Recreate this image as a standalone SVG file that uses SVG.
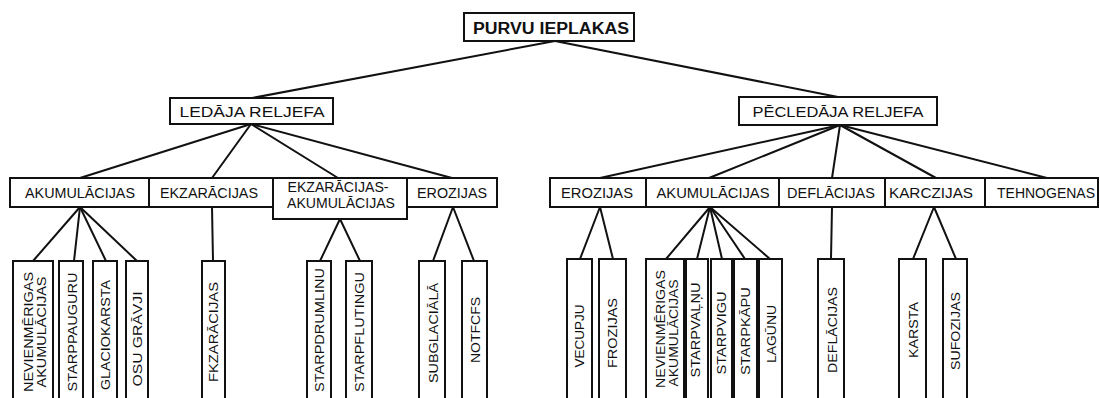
<svg xmlns="http://www.w3.org/2000/svg" width="1100" height="398" viewBox="0 0 1100 398">
<style>
.b{fill:#fff;stroke:#111;stroke-width:2}
.c line{stroke:#111;stroke-width:2;stroke-linecap:round}
text{font-family:"Liberation Sans",Arial,sans-serif;fill:#111;font-size:14px}
.t{text-anchor:middle}
.r{font-size:13.5px}
.root{font-weight:bold;font-size:16px}
</style>
<rect width="1100" height="398" fill="#fff"/>
<g class="c" id="connectors">
<line x1="555" y1="41" x2="252" y2="98"/>
<line x1="555" y1="41" x2="838" y2="97"/>
<line x1="251" y1="124" x2="80" y2="178"/>
<line x1="251" y1="124" x2="212" y2="178"/>
<line x1="251" y1="124" x2="338" y2="178"/>
<line x1="251" y1="124" x2="452" y2="178"/>
<line x1="840" y1="125" x2="600" y2="178"/>
<line x1="840" y1="125" x2="709" y2="178"/>
<line x1="840" y1="125" x2="832" y2="178"/>
<line x1="840" y1="125" x2="936" y2="178"/>
<line x1="840" y1="125" x2="1047" y2="178"/>
<line x1="80" y1="207" x2="33" y2="261"/>
<line x1="80" y1="207" x2="74" y2="261"/>
<line x1="80" y1="207" x2="106" y2="261"/>
<line x1="80" y1="207" x2="137" y2="261"/>
<line x1="212" y1="207" x2="213" y2="261"/>
<line x1="340" y1="219" x2="320" y2="261"/>
<line x1="340" y1="219" x2="360" y2="261"/>
<line x1="453" y1="207" x2="433" y2="261"/>
<line x1="453" y1="207" x2="474" y2="261"/>
<line x1="600" y1="207" x2="580" y2="259"/>
<line x1="600" y1="207" x2="613" y2="259"/>
<line x1="710" y1="207" x2="666" y2="259"/>
<line x1="710" y1="207" x2="697" y2="259"/>
<line x1="710" y1="207" x2="722" y2="259"/>
<line x1="710" y1="207" x2="745" y2="259"/>
<line x1="710" y1="207" x2="770" y2="259"/>
<line x1="832" y1="207" x2="831" y2="259"/>
<line x1="934" y1="207" x2="913" y2="259"/>
<line x1="934" y1="207" x2="956" y2="259"/>
</g>
<g id="root"><rect class="b" x="464" y="13" width="170" height="28"/><text class="t root" x="551" y="34" textLength="156" lengthAdjust="spacingAndGlyphs">PURVU IEPLAKAS</text></g>
<g id="ledaja"><rect class="b" x="170" y="98" width="163" height="26"/><text class="t" x="252" y="117" textLength="145" lengthAdjust="spacingAndGlyphs">LEDĀJA RELJEFA</text></g>
<g id="pecledaja"><rect class="b" x="739" y="97" width="198" height="28"/><text class="t" x="838" y="117" textLength="171" lengthAdjust="spacingAndGlyphs">PĒCLEDĀJA RELJEFA</text></g>
<g id="l-akum"><rect class="b" x="10" y="178" width="139" height="29"/><text class="t" x="80" y="198" textLength="110" lengthAdjust="spacingAndGlyphs">AKUMULĀCIJAS</text></g>
<g id="l-ekz"><rect class="b" x="149" y="178" width="124" height="29"/><text class="t" x="209" y="198" textLength="98" lengthAdjust="spacingAndGlyphs">EKZARĀCIJAS</text></g>
<g id="l-ekzakum"><rect class="b" x="273" y="178" width="134" height="41"/><text class="t" x="338" y="192" textLength="101" lengthAdjust="spacingAndGlyphs">EKZARĀCIJAS-</text><text class="t" x="341" y="208" textLength="108" lengthAdjust="spacingAndGlyphs">AKUMULĀCIJAS</text></g>
<g id="l-eroz"><rect class="b" x="407" y="178" width="90" height="29"/><text class="t" x="452" y="198" textLength="70" lengthAdjust="spacingAndGlyphs">EROZIJAS</text></g>
<g id="r-eroz"><rect class="b" x="550" y="178" width="96" height="29"/><text class="t" x="597" y="198" textLength="72" lengthAdjust="spacingAndGlyphs">EROZIJAS</text></g>
<g id="r-akum"><rect class="b" x="646" y="178" width="133" height="29"/><text class="t" x="713" y="198" textLength="113" lengthAdjust="spacingAndGlyphs">AKUMULĀCIJAS</text></g>
<g id="r-defl"><rect class="b" x="779" y="178" width="106" height="29"/><text class="t" x="831" y="198" textLength="88" lengthAdjust="spacingAndGlyphs">DEFLĀCIJAS</text></g>
<g id="r-karc"><rect class="b" x="885" y="178" width="100" height="29"/><text class="t" x="931" y="198" textLength="84" lengthAdjust="spacingAndGlyphs">KARCZIJAS</text></g>
<g id="r-tehn"><rect class="b" x="985" y="178" width="113" height="29"/><text class="t" x="1046" y="198" textLength="98" lengthAdjust="spacingAndGlyphs">TEHNOGENAS</text></g>
<g id="leaf1"><rect class="b" x="13" y="261" width="40" height="150"/><text class="t r" transform="translate(32.5,332) rotate(-90)" textLength="120" lengthAdjust="spacingAndGlyphs">NEVIENMĒRIGAS</text><text class="t r" transform="translate(46,332) rotate(-90)" textLength="111" lengthAdjust="spacingAndGlyphs">AKUMULĀCIJAS</text></g>
<g id="leaf2"><rect class="b" x="59" y="261" width="24" height="150"/><text class="t r" transform="translate(76.5,332) rotate(-90)" textLength="119" lengthAdjust="spacingAndGlyphs">STARPPAUGURU</text></g>
<g id="leaf3"><rect class="b" x="93" y="261" width="24" height="150"/><text class="t r" transform="translate(109.5,335) rotate(-90)" textLength="110" lengthAdjust="spacingAndGlyphs">GLACIOKARSTA</text></g>
<g id="leaf4"><rect class="b" x="126" y="261" width="22" height="150"/><text class="t r" transform="translate(141.5,339) rotate(-90)" textLength="95" lengthAdjust="spacingAndGlyphs">OSU  GRĀVJI</text></g>
<g id="leaf5"><rect class="b" x="202" y="261" width="23" height="150"/><text class="t r" transform="translate(217.5,332) rotate(-90)" textLength="100" lengthAdjust="spacingAndGlyphs">FKZARĀCIJAS</text></g>
<g id="leaf6"><rect class="b" x="307" y="261" width="24" height="150"/><text class="t r" transform="translate(323.5,330) rotate(-90)" textLength="124" lengthAdjust="spacingAndGlyphs">STARPDRUMLINU</text></g>
<g id="leaf7"><rect class="b" x="346" y="261" width="26" height="150"/><text class="t r" transform="translate(363.5,332) rotate(-90)" textLength="120" lengthAdjust="spacingAndGlyphs">STARPFLUTINGU</text></g>
<g id="leaf8"><rect class="b" x="419" y="261" width="26" height="150"/><text class="t r" transform="translate(437.5,333) rotate(-90)" textLength="100" lengthAdjust="spacingAndGlyphs">SUBGLACIĀLĀ</text></g>
<g id="leaf9"><rect class="b" x="462" y="261" width="25" height="150"/><text class="t r" transform="translate(479.5,330) rotate(-90)" textLength="66" lengthAdjust="spacingAndGlyphs">NOTFCFS</text></g>
<g id="leaf10"><rect class="b" x="567" y="259" width="25" height="150"/><text class="t r" transform="translate(583.5,336) rotate(-90)" textLength="63" lengthAdjust="spacingAndGlyphs">VECUPJU</text></g>
<g id="leaf11"><rect class="b" x="599" y="259" width="27" height="150"/><text class="t r" transform="translate(616.5,333) rotate(-90)" textLength="70" lengthAdjust="spacingAndGlyphs">FROZIJAS</text></g>
<g id="leaf12"><rect class="b" x="646" y="259" width="38" height="150"/><text class="t r" transform="translate(664.5,329) rotate(-90)" textLength="118" lengthAdjust="spacingAndGlyphs">NEVIENMĒRIGAS</text><text class="t r" transform="translate(677.5,333) rotate(-90)" textLength="107" lengthAdjust="spacingAndGlyphs">AKUMULĀCIJAS</text></g>
<g id="leaf13"><rect class="b" x="686" y="259" width="22" height="150"/><text class="t r" transform="translate(699.5,330) rotate(-90)" textLength="95" lengthAdjust="spacingAndGlyphs">STARPVAĻŅU</text></g>
<g id="leaf14"><rect class="b" x="711" y="259" width="21" height="150"/><text class="t r" transform="translate(725.5,333) rotate(-90)" textLength="83" lengthAdjust="spacingAndGlyphs">STARPVIGU</text></g>
<g id="leaf15"><rect class="b" x="734" y="259" width="23" height="150"/><text class="t r" transform="translate(749.5,331) rotate(-90)" textLength="88" lengthAdjust="spacingAndGlyphs">STARPKĀPU</text></g>
<g id="leaf16"><rect class="b" x="759" y="259" width="23" height="150"/><text class="t r" transform="translate(775.5,334) rotate(-90)" textLength="58" lengthAdjust="spacingAndGlyphs">LAGŪNU</text></g>
<g id="leaf17"><rect class="b" x="818" y="259" width="26" height="150"/><text class="t r" transform="translate(836.5,330) rotate(-90)" textLength="86" lengthAdjust="spacingAndGlyphs">DEFLĀCIJAS</text></g>
<g id="leaf18"><rect class="b" x="899" y="259" width="27" height="150"/><text class="t r" transform="translate(917.5,330) rotate(-90)" textLength="56" lengthAdjust="spacingAndGlyphs">KARSTA</text></g>
<g id="leaf19"><rect class="b" x="943" y="259" width="24" height="150"/><text class="t r" transform="translate(959.5,331) rotate(-90)" textLength="78" lengthAdjust="spacingAndGlyphs">SUFOZIJAS</text></g>
</svg>
